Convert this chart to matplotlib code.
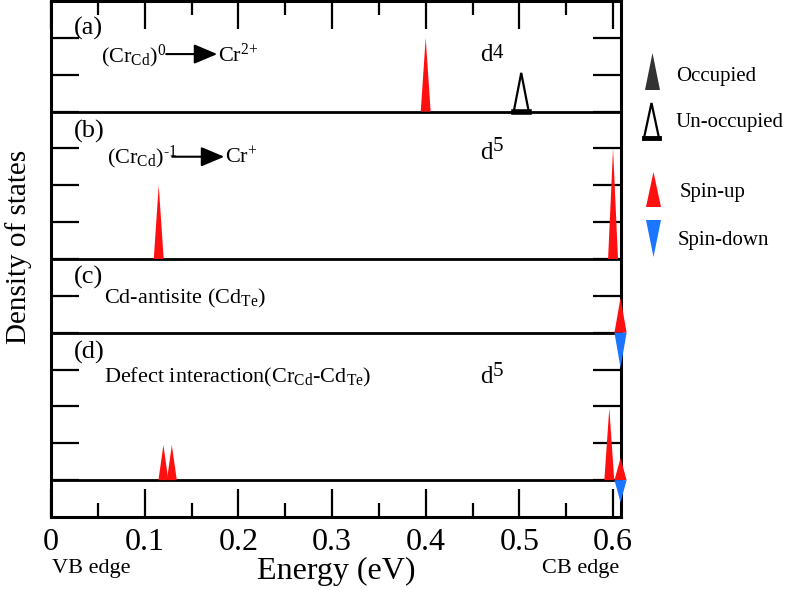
"""
Defect levels of Cr / Cd-antisite in CdTe: schematic DOS panels
"""
import matplotlib
matplotlib.use("Agg")
import matplotlib.pyplot as plt

plt.rcParams['font.family'] = ['Liberation Serif', 'DejaVu Serif']
plt.rcParams['mathtext.fontset'] = 'custom'
plt.rcParams['mathtext.rm'] = 'Liberation Serif'
plt.rcParams['mathtext.it'] = 'Liberation Serif:italic'

# ---- data ----
# panel baselines (DOS offset of each stacked panel)
panel_names = ['(a)', '(b)', '(c)', '(d)']
panel_base = [11, 7, 5, 1]

# spin-up occupied peaks: energy, panel index, height
up_energy = [0.400, 0.115, 0.600, 0.608, 0.120, 0.129, 0.596, 0.608]
up_panel = [0, 1, 1, 2, 3, 3, 3, 3]
up_height = [2.0, 2.0, 3.0, 0.95, 0.95, 0.95, 1.95, 0.6]

# spin-down peaks
down_energy = [0.608, 0.608]
down_panel = [2, 3]
down_height = [0.95, 0.6]

# un-occupied peaks
unocc_energy = [0.502]
unocc_panel = [0]
unocc_height = [1.05]

x_ticks = [0, 0.1, 0.2, 0.3, 0.4, 0.5, 0.6]
x_tick_labels = ['0', '0.1', '0.2', '0.3', '0.4', '0.5', '0.6']

RED = '#ff1010'
BLUE = '#1a75ff'
W, H = 787, 590


def fig_xy(px, py):
    """pixel position -> figure fraction"""
    return px / W, 1 - py / H


fig = plt.figure(figsize=(W / 100, H / 100), dpi=100)
ax = fig.add_axes([51 / W, 1 - 517 / H, 570 / W, 516 / H])
ax.set_xlim(0, 0.6085)
ax.set_ylim(0, 14)

for sp in ax.spines.values():
    sp.set_linewidth(2.2)

ax.set_xticks(x_ticks)
ax.set_xticklabels(x_tick_labels)
ax.set_xticks([0.05, 0.15, 0.25, 0.35, 0.45, 0.55], minor=True)
ax.set_yticks(range(1, 14))
ax.set_yticklabels([])
ax.tick_params(which='both', direction='in', top=True, right=True, width=1.6)
ax.tick_params(which='major', length=20, labelsize=23, pad=8)
ax.tick_params(which='minor', length=10)

# panel separators / baselines
for b in panel_base:
    ax.axhline(b, color='black', lw=2.0, zorder=3)


def spike(x, base, h, hw, **kw):
    ax.fill([x - hw, x, x + hw], [base, base + h, base], lw=0, **kw)


for x, p, h in zip(up_energy, up_panel, up_height):
    hw = 0.0065 if x > 0.605 else 0.0053
    spike(x, panel_base[p], h, hw, color=RED, clip_on=False, zorder=4)

for x, p, h in zip(down_energy, down_panel, down_height):
    spike(x, panel_base[p], -h, 0.0065, color=BLUE, clip_on=False, zorder=4)

for x, p, h in zip(unocc_energy, unocc_panel, unocc_height):
    b = panel_base[p]
    ax.fill([x - 0.008, x, x + 0.008], [b, b + h, b], facecolor='white',
            edgecolor='black', lw=1.6, zorder=4)
    ax.plot([x - 0.008, x + 0.008], [b, b], color='black', lw=4, zorder=5)

# panel labels
label_y = [13.08, 10.29, 6.34, 4.31]
for name, y in zip(panel_names, label_y):
    ax.text(0.0246, y, name, fontsize=19, va='baseline')

fs = 16
ax.text(0.0535, 12.35, r'(Cr$_{\mathrm{Cd}}$)$^{0}$', fontsize=fs, va='baseline')
ax.text(0.1786, 12.35, r'Cr$^{2{+}}$', fontsize=fs, va='baseline')
ax.text(0.0599, 9.585, r'(Cr$_{\mathrm{Cd}}$)$^{\text{-1}}$', fontsize=fs, va='baseline')
ax.text(0.186, 9.585, r'Cr$^{+}$', fontsize=fs, va='baseline')
ax.text(0.0567, 5.795, r'Cd-antisite (Cd$_{\mathrm{Te}}$)', fontsize=fs, va='baseline')
ax.text(0.0567, 3.655, r'Defect interaction(Cr$_{\mathrm{Cd}}$-Cd$_{\mathrm{Te}}$)',
        fontsize=fs, va='baseline')

arrow = dict(arrowstyle='-|>,head_length=0.95,head_width=0.4', color='black',
             lw=1.5, mutation_scale=15, shrinkA=0, shrinkB=0)
ax.annotate('', xy=(0.1775, 12.56), xytext=(0.123, 12.56), arrowprops=arrow)
ax.annotate('', xy=(0.185, 9.775), xytext=(0.1294, 9.775), arrowprops=arrow)

# d-electron counts
for dy, sup, sy in [(12.375, '4', 12.46), (9.72, '5', 9.94), (3.63, '5', 3.82)]:
    ax.text(0.4578, dy, 'd', fontsize=18, va='baseline')
    ax.text(0.4716, sy, sup, fontsize=15, va='baseline')

ax.set_xlabel('Energy (eV)', fontsize=23, labelpad=0)
fig.text(*fig_xy(19, 247), 'Density of states', fontsize=21, rotation=90,
         ha='center', va='center')
fig.text(*fig_xy(52, 573), 'VB edge', fontsize=16, va='baseline')
fig.text(*fig_xy(542, 573), 'CB edge', fontsize=16, va='baseline')

# legend drawn in pixel coordinates
lax = fig.add_axes([0, 0, 1, 1])
lax.set_xlim(0, W)
lax.set_ylim(H, 0)
lax.axis('off')
lax.fill([645, 652.5, 660], [90, 53, 90], color='#333333', lw=0)
lax.fill([644, 651.5, 659], [138, 103, 138], facecolor='white', edgecolor='black', lw=1.6)
lax.plot([644, 659], [138, 138], color='black', lw=3.5)
lax.fill([646, 653.5, 661], [207, 172, 207], color=RED, lw=0)
lax.fill([646, 653.5, 661], [220, 257, 220], color=BLUE, lw=0)
lax.text(676, 77, 'Occupied', fontsize=15, va='center')
lax.text(676, 123, 'Un-occupied', fontsize=15, va='center')
lax.text(680, 192, 'Spin-up', fontsize=15, va='center')
lax.text(678, 240, 'Spin-down', fontsize=15, va='center')

fig.savefig('out.png', dpi=100)
